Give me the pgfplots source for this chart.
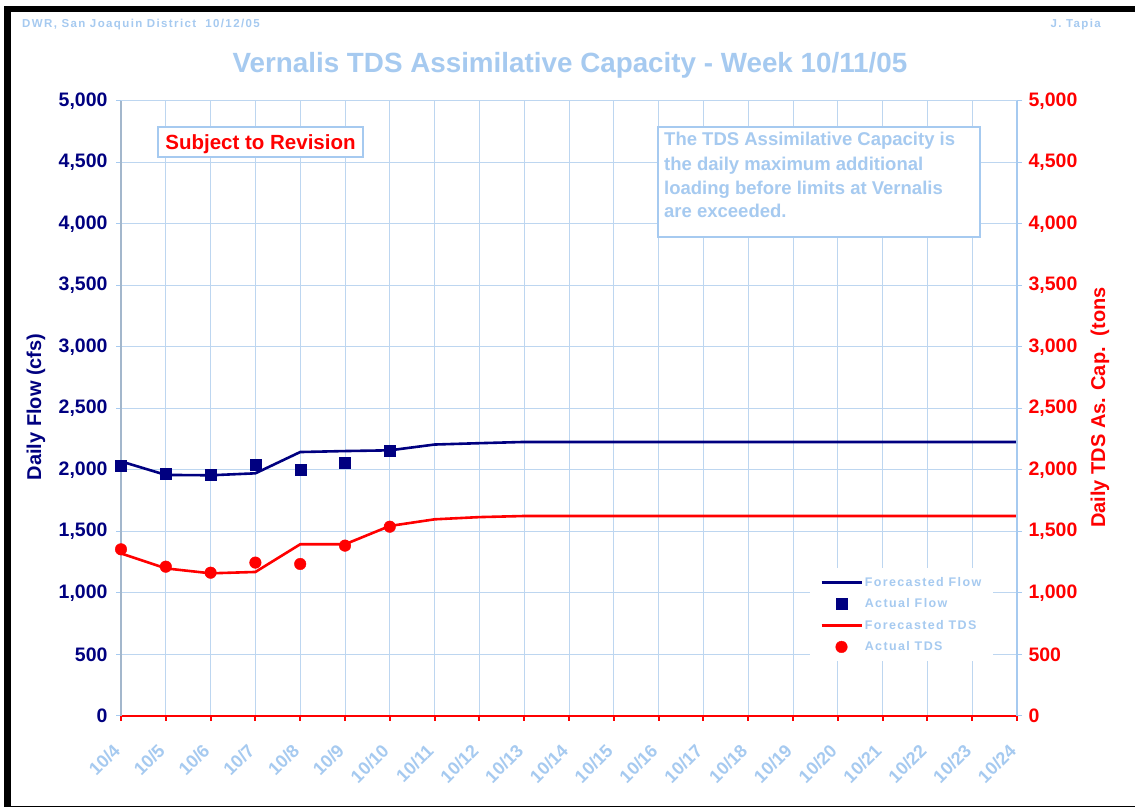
\documentclass[border=0pt]{standalone}
\usepackage{fontspec}
\setmainfont{Liberation Sans}
\newfontfamily\headfont[LetterSpace=12]{Liberation Sans}
\newfontfamily\legfont[LetterSpace=11]{Liberation Sans}
\usepackage{pgfplots}
\usepackage{pgfplotstable}
\pgfplotsset{compat=1.18}

\definecolor{navy}{HTML}{000080}
\definecolor{paleblue}{HTML}{A6CAF0}
\definecolor{gridblue}{HTML}{BDD6F0}
\definecolor{axisgray}{HTML}{A3B7CC}

% forecast series (day 0 = 10/4)
\pgfplotstableread{
day flow tds
0  2070 1322
1  1960 1200
2  1957 1160
3  1973 1171
4  2146 1396
5  2154 1396
6  2160 1545
7  2207 1599
8  2218 1617
9  2228 1626
10 2228 1626
11 2228 1626
12 2228 1626
13 2228 1626
14 2228 1626
15 2228 1626
16 2228 1626
17 2228 1626
18 2228 1626
19 2228 1626
20 2228 1626
}\forecast

% measured values
\pgfplotstableread{
day flow tds
0 2035 1355
1 1973 1214
2 1965 1165
3 2046 1247
4 2006 1236
5 2057 1385
6 2160 1539
}\actual

\begin{document}
\begin{tikzpicture}
\begin{scope}[x=1pt,y=1pt]
\useasboundingbox (0,0) rectangle (1135,808);
\fill[white] (0,0) rectangle (1135,808);
\fill[black] (4,1) rectangle (10.5,802);
\fill[black] (4,795.5) rectangle (1135,802);
\fill[black] (4,1) rectangle (1135,2.3);
\end{scope}

\begin{axis}[
  at={(121pt,92pt)}, anchor=south west,
  scale only axis, width=896pt, height=615pt,
  xmin=0, xmax=20, ymin=0, ymax=5000,
  clip=false,
  axis x line*=bottom, axis y line*=left,
  x axis line style={red, line width=2.5pt},
  y axis line style={axisgray, line width=1.2pt},
  xtick={0,...,20},
  xticklabels={10/4,10/5,10/6,10/7,10/8,10/9,10/10,10/11,10/12,10/13,10/14,10/15,10/16,10/17,10/18,10/19,10/20,10/21,10/22,10/23,10/24},
  ytick={0,500,...,5000},
  tick align=outside, major tick length=5pt,
  xtick style={red, line width=2pt},
  ytick style={paleblue, line width=1pt},
  grid=major, grid style={gridblue, line width=1pt},
  scaled y ticks=false,
  /pgf/number format/.cd, 1000 sep={,}, assume math mode=true, /pgfplots/.cd,
  yticklabel style={text=navy, font=\bfseries\fontsize{19.5}{21}\selectfont, xshift=-5pt},
  xticklabel style={text=paleblue, font=\bfseries\fontsize{18}{20}\selectfont, xshift=-9pt, yshift=-17pt, rotate=45, anchor=north east},
  legend image code/.code={\draw[mark repeat=2,mark phase=2,#1] plot coordinates {(0pt,0pt) (20pt,0pt) (40pt,0pt)};},
  legend cell align=left,
  legend style={at={(0.769,0.241)}, anchor=north west, draw=none, fill=white,
    inner xsep=10pt, inner ysep=7pt, row sep=7pt,
    nodes={inner sep=2pt, text=paleblue},
    font=\legfont\bfseries\fontsize{12.5}{14}\selectfont},
]
\addplot[navy, line width=2.6pt, mark=none] table[x=day, y=flow] {\forecast};
\addlegendentry{Forecasted Flow}
\addplot[only marks, mark=square*, mark size=5.5pt, color=navy] table[x=day, y=flow] {\actual};
\addlegendentry{Actual Flow}
\addplot[red, line width=2.6pt, mark=none] table[x=day, y=tds] {\forecast};
\addlegendentry{Forecasted TDS}
\addplot[only marks, mark=*, mark size=5.8pt, color=red] table[x=day, y=tds] {\actual};
\addlegendentry{Actual TDS}
\end{axis}

\begin{axis}[
  at={(121pt,92pt)}, anchor=south west,
  scale only axis, width=896pt, height=615pt,
  xmin=0, xmax=20, ymin=0, ymax=5000,
  axis x line=none, axis y line*=right,
  y axis line style={paleblue, line width=1.2pt},
  ytick={0,500,...,5000},
  tick align=outside, major tick length=5pt,
  ytick style={paleblue, line width=1pt},
  scaled y ticks=false,
  /pgf/number format/.cd, 1000 sep={,}, assume math mode=true, /pgfplots/.cd,
  yticklabel style={text=red, font=\bfseries\fontsize{19.5}{21}\selectfont, xshift=3pt},
]
\end{axis}

\begin{scope}[x=1pt,y=1pt]
% titles
\node[text=paleblue, font=\bfseries\fontsize{27.8}{31}\selectfont] at (570,743) {Vernalis TDS Assimilative Capacity - Week 10/11/05};
\node[anchor=west, text=paleblue, font=\headfont\bfseries\fontsize{11.5}{13}\selectfont, inner sep=0pt] at (22,783) {DWR, San Joaquin District\ \ 10/12/05};
\node[anchor=east, text=paleblue, font=\headfont\bfseries\fontsize{11.5}{13}\selectfont, inner sep=0pt] at (1101,783) {J. Tapia};
% axis titles
\node[rotate=90, text=navy, font=\bfseries\fontsize{20}{22}\selectfont] at (36,401) {Daily Flow (cfs)};
\node[rotate=90, text=red, font=\bfseries\fontsize{20}{22}\selectfont] at (1100,400.5) {Daily TDS As. Cap.\ \ (tons};
% boxes
\filldraw[fill=white, draw=paleblue, line width=1.2pt] (158,651) rectangle (363,681);
\node[text=red, font=\bfseries\fontsize{20.5}{23}\selectfont] at (260.5,664) {Subject to Revision};
\filldraw[fill=white, draw=paleblue, line width=1.2pt] (658,571) rectangle (980,681);
\begin{scope}[every node/.style={anchor=base west, inner sep=0pt, text=paleblue, font=\bfseries\fontsize{18.5}{21}\selectfont}]
\node at (664,662) {The TDS Assimilative Capacity is};
\node at (664,637.7) {the daily maximum additional};
\node at (664,613.8) {loading before limits at Vernalis};
\node at (664,590) {are exceeded.};
\end{scope}
\end{scope}
\end{tikzpicture}
\end{document}
